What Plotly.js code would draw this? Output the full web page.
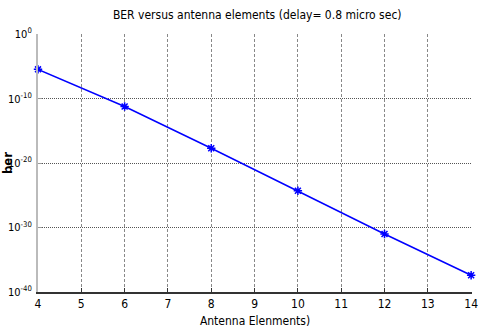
<!DOCTYPE html>
<html><head><meta charset="utf-8">
<script src="https://cdn.plot.ly/plotly-3.0.1.min.js"></script>
<style>html,body{margin:0;padding:0;background:#fff}</style>
</head><body>
<div id="chart" style="width:479px;height:329px"></div>
<script>
const antennaElements = [4, 6, 8, 10, 12, 14];
const berValues = [3.5e-6, 6e-12, 2e-18, 5e-25, 1e-31, 4e-38];
const xTickVals = [4,5,6,7,8,9,10,11,12,13,14];
const yTickVals = [1, 1e-10, 1e-20, 1e-30, 1e-40];
const yTickText = ['10<sup>0</sup>','10<sup>-10</sup>','10<sup>-20</sup>','10<sup>-30</sup>','10<sup>-40</sup>'];

const FONT = '"Liberation Sans Narrow", "DejaVu Sans Condensed", "Arial Narrow", sans-serif';
const trace = {
  x: antennaElements, y: berValues, type: 'scatter', mode: 'lines+markers',
  line: {color: '#0000ff', width: 1.5},
  marker: {symbol: 'asterisk-open', size: 7, color: '#0000ff', line: {color: '#0000ff', width: 1.5}},
  showlegend: false, cliponaxis: false
};
const layout = {
  width: 479, height: 329,
  margin: {l: 38, r: 7, t: 34, b: 37},
  paper_bgcolor: '#fff', plot_bgcolor: '#fff',
  font: {family: FONT, color: '#000', size: 11},
  title: {text: 'BER versus antenna elements (delay= 0.8 micro sec)', x: 0.537, xanchor: 'center', y: 0.955, yanchor: 'middle', font: {size: 12}},
  xaxis: {
    range: [4, 14.02], tickvals: xTickVals, ticks: 'inside', ticklen: 4, tickcolor: '#333',
    showline: true, linecolor: '#333', linewidth: 1.5, mirror: false,
    showgrid: true, gridcolor: '#888', griddash: '3px,2px', gridwidth: 1,
    zeroline: false, tickfont: {size: 12}, ticklabeloverflow: 'allow',
    title: {text: 'Antenna Elenments)', font: {size: 12}, standoff: 6},
    automargin: false
  },
  yaxis: {
    type: 'log', range: [-40, 0.03], tickvals: yTickVals, ticktext: yTickText,
    ticks: 'inside', ticklen: 4, tickcolor: '#999',
    showline: true, linecolor: '#bbb', linewidth: 2,
    showgrid: true, gridcolor: '#555', griddash: '1px,1px', gridwidth: 1,
    zeroline: false, tickfont: {size: 11}, ticklabelstandoff: 2, ticklabeloverflow: 'allow',
    title: {text: '<b>ber</b>', font: {size: 13}, standoff: 2},
    automargin: false
  }
};
Plotly.newPlot('chart', [trace], layout, {staticPlot: true, displayModeBar: false});
</script>
</body></html>
